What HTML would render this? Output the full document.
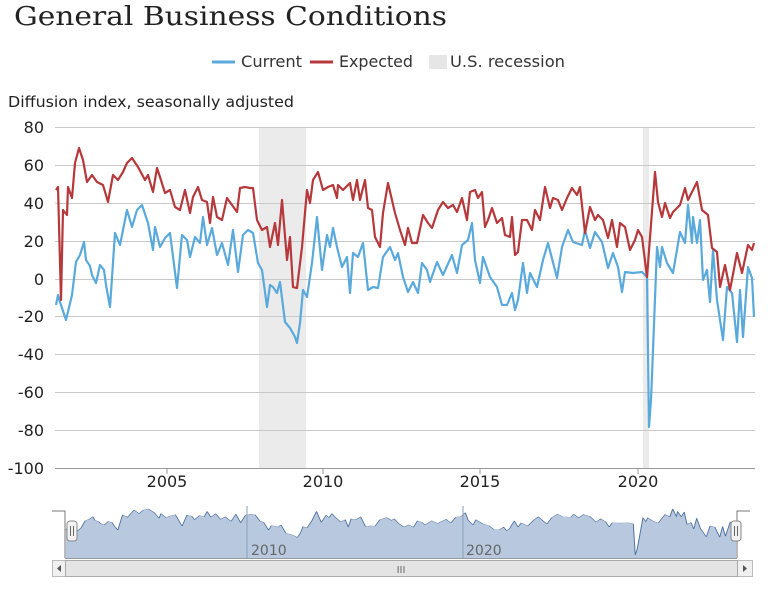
<!DOCTYPE html>
<html><head><meta charset="utf-8"><style>
body{margin:0;background:#fff;width:768px;height:596px;overflow:hidden}
svg{display:block}
text{font-family:"DejaVu Sans","Liberation Sans",sans-serif}
</style></head><body>
<svg width="768" height="596" xmlns="http://www.w3.org/2000/svg">
<defs>
<polyline id="cur" points="56,305 58,295 60,302 66,320 72,295 76,262 80,255 84,242 86,260 90,266 92,275 96,283 100,265 104,270 106,285 110,307 115,233 120,245 127,210 132,227 137,210 142,205 148,223 153,250 155,227 160,247 165,238 170,233 177,288 182,235 187,240 190,257 195,237 200,243 203,217 207,245 212,228 217,255 222,243 228,265 233,230 238,272 243,235 248,230 253,233 258,263 262,270 267,307 270,285 273,287 277,293 280,282 285,322 290,328 295,337 297,343 300,323 303,290 307,297 312,263 317,217 322,270 327,235 330,247 333,228 337,247 342,267 347,257 350,293 353,253 358,257 363,243 368,290 373,287 378,288 383,257 390,247 395,260 398,253 403,277 408,292 413,282 418,293 422,263 427,270 430,282 437,262 443,275 452,255 457,273 462,245 468,240 472,223 475,260 480,283 483,257 490,277 497,287 502,305 507,305 512,293 515,310 518,300 523,263 527,293 530,273 537,287 543,260 548,243 557,278 562,247 568,230 573,242 582,245 585,230 590,248 595,232 602,242 608,268 613,253 618,267 622,292 625,272 633,273 642,272 647,277 649,427 651,400 653,350 657,247 660,267 662,247 667,263 673,273 680,232 685,243 688,205 692,243 693,217 697,243 700,220 703,280 707,270 710,302 713,250 717,300 723,340 727,287 732,293 737,342 740,290 743,337 748,267 752,278 754,317"/>
</defs>
<text x="14" y="25" style="font-family:'DejaVu Serif','Liberation Serif',serif" font-size="26" fill="#222" textLength="433" lengthAdjust="spacingAndGlyphs">General Business Conditions</text>
<line x1="212" y1="62" x2="235" y2="62" stroke="#5aa9dc" stroke-width="3"/>
<text x="241" y="67" font-size="16" fill="#333" textLength="61" lengthAdjust="spacingAndGlyphs">Current</text>
<line x1="310" y1="62" x2="333" y2="62" stroke="#b6383b" stroke-width="3"/>
<text x="339" y="67" font-size="16" fill="#333" textLength="74" lengthAdjust="spacingAndGlyphs">Expected</text>
<rect x="429" y="55" width="18" height="14" fill="#e6e6e6"/>
<text x="450" y="67" font-size="16" fill="#333" textLength="115" lengthAdjust="spacingAndGlyphs">U.S. recession</text>
<text x="8" y="107" font-size="15" fill="#222" textLength="286" lengthAdjust="spacingAndGlyphs">Diffusion index, seasonally adjusted</text>
<rect x="259" y="127" width="47" height="341" fill="#ebebeb"/>
<rect x="643" y="127" width="6" height="341" fill="#ebebeb"/>
<g stroke="#c8c8c8" stroke-width="1">
<line x1="55" y1="127.5" x2="755" y2="127.5"/><line x1="55" y1="165.5" x2="755" y2="165.5"/><line x1="55" y1="203.5" x2="755" y2="203.5"/><line x1="55" y1="241.5" x2="755" y2="241.5"/><line x1="55" y1="279.5" x2="755" y2="279.5"/><line x1="55" y1="316.5" x2="755" y2="316.5"/><line x1="55" y1="354.5" x2="755" y2="354.5"/><line x1="55" y1="392.5" x2="755" y2="392.5"/><line x1="55" y1="430.5" x2="755" y2="430.5"/>
</g>
<line x1="55" y1="468.5" x2="755" y2="468.5" stroke="#999"/>
<g font-size="16" fill="#222" text-anchor="end">
<text x="44" y="133">80</text><text x="44" y="171">60</text><text x="44" y="209">40</text><text x="44" y="247">20</text><text x="44" y="285">0</text><text x="44" y="322">-20</text><text x="44" y="360">-40</text><text x="44" y="398">-60</text><text x="44" y="436">-80</text><text x="44" y="474">-100</text>
</g>
<g font-size="16" fill="#222" text-anchor="middle">
<text x="167" y="487">2005</text><text x="323" y="487">2010</text><text x="480" y="487">2015</text><text x="638" y="487">2020</text>
</g>
<g stroke="#999"><line x1="167" y1="468" x2="167" y2="474"/><line x1="323" y1="468" x2="323" y2="474"/><line x1="480" y1="468" x2="480" y2="474"/><line x1="638" y1="468" x2="638" y2="474"/></g>
<use href="#cur" fill="none" stroke="#5aa9dc" stroke-width="2.2" stroke-linejoin="round"/>
<polyline fill="none" stroke="#b6383b" stroke-width="2.2" stroke-linejoin="round" points="56,190 58,187 61,300 63,210 67,215 68,187 72,198 75,163 79,148 83,160 87,182 92,175 97,182 103,185 108,202 113,175 118,180 123,172 127,163 132,158 138,167 145,180 148,175 153,192 157,168 160,177 165,193 170,190 175,207 180,210 185,190 190,213 193,197 198,187 202,200 207,202 210,223 213,197 217,217 222,220 227,198 232,205 237,212 240,188 245,187 250,188 253,188 257,220 262,230 267,227 270,247 275,223 278,245 282,200 287,260 290,237 293,287 297,288 302,247 307,190 310,203 313,180 318,172 323,190 328,187 333,185 337,198 338,185 343,190 350,183 353,200 357,180 360,200 365,180 368,208 372,210 375,237 380,247 383,213 388,183 395,213 400,230 405,245 408,228 412,243 417,243 423,215 428,223 432,228 438,210 443,202 448,208 453,205 457,212 462,198 467,220 470,192 475,190 478,198 482,192 485,227 488,220 492,208 497,223 502,218 505,235 510,237 512,217 515,255 518,252 522,220 527,220 532,230 535,210 540,220 545,187 550,208 553,198 558,200 562,210 567,198 572,188 577,195 580,187 585,233 590,207 595,220 598,215 603,220 608,238 612,220 617,247 620,223 625,227 630,250 635,240 638,230 642,237 647,277 655,172 658,202 662,217 665,203 670,218 673,212 680,205 685,188 688,200 692,192 697,182 702,210 708,215 712,248 717,252 720,287 725,265 730,290 737,253 742,273 748,245 752,250 754,243"/>
<!-- navigator -->
<g transform="translate(12.2,466.5) scale(0.96,0.207)">
<polygon fill="#b8c9df" points="56,442 56,305 58,295 60,302 66,320 72,295 76,262 80,255 84,242 86,260 90,266 92,275 96,283 100,265 104,270 106,285 110,307 115,233 120,245 127,210 132,227 137,210 142,205 148,223 153,250 155,227 160,247 165,238 170,233 177,288 182,235 187,240 190,257 195,237 200,243 203,217 207,245 212,228 217,255 222,243 228,265 233,230 238,272 243,235 248,230 253,233 258,263 262,270 267,307 270,285 273,287 277,293 280,282 285,322 290,328 295,337 297,343 300,323 303,290 307,297 312,263 317,217 322,270 327,235 330,247 333,228 337,247 342,267 347,257 350,293 353,253 358,257 363,243 368,290 373,287 378,288 383,257 390,247 395,260 398,253 403,277 408,292 413,282 418,293 422,263 427,270 430,282 437,262 443,275 452,255 457,273 462,245 468,240 472,223 475,260 480,283 483,257 490,277 497,287 502,305 507,305 512,293 515,310 518,300 523,263 527,293 530,273 537,287 543,260 548,243 557,278 562,247 568,230 573,242 582,245 585,230 590,248 595,232 602,242 608,268 613,253 618,267 622,292 625,272 633,273 642,272 647,277 649,427 651,400 653,350 657,247 660,267 662,247 667,263 673,273 680,232 685,243 688,205 692,243 693,217 697,243 700,220 703,280 707,270 710,302 713,250 717,300 723,340 727,287 732,293 737,342 740,290 743,337 748,267 752,278 754,317 754,442"/>
<use href="#cur" fill="none" stroke="#4a6e9e" stroke-width="1" vector-effect="non-scaling-stroke"/>
</g>
<line x1="247" y1="506" x2="247" y2="558" stroke="#8aa0bd"/>
<line x1="463" y1="506" x2="463" y2="558" stroke="#8aa0bd"/>
<text x="251" y="555" font-size="14" fill="#666">2010</text>
<text x="466" y="555" font-size="14" fill="#666">2020</text>
<line x1="65" y1="558.5" x2="737" y2="558.5" stroke="#999"/>
<polyline points="52,511 65,511 65,558" fill="none" stroke="#777"/>
<polyline points="750,511 737,511 737,558" fill="none" stroke="#777"/>
<rect x="67" y="521" width="10" height="20" rx="3" fill="#f2f2f2" stroke="#888"/>
<rect x="731" y="521" width="10" height="20" rx="3" fill="#f2f2f2" stroke="#888"/>
<g stroke="#666"><line x1="70.5" y1="526" x2="70.5" y2="536"/><line x1="73.5" y1="526" x2="73.5" y2="536"/><line x1="734.5" y1="526" x2="734.5" y2="536"/><line x1="737.5" y1="526" x2="737.5" y2="536"/></g>
<rect x="52.5" y="560.5" width="700" height="16" fill="#f0f0f0" stroke="#bbb"/>
<rect x="65.5" y="560.5" width="672" height="16" fill="#e4e4e4" stroke="#aaa"/>
<text x="401" y="573" font-size="10" fill="#666" text-anchor="middle">III</text>
<polygon points="61,565 61,572 57,568.5" fill="#555"/>
<polygon points="743,565 743,572 747,568.5" fill="#555"/>
</svg>
</body></html>
